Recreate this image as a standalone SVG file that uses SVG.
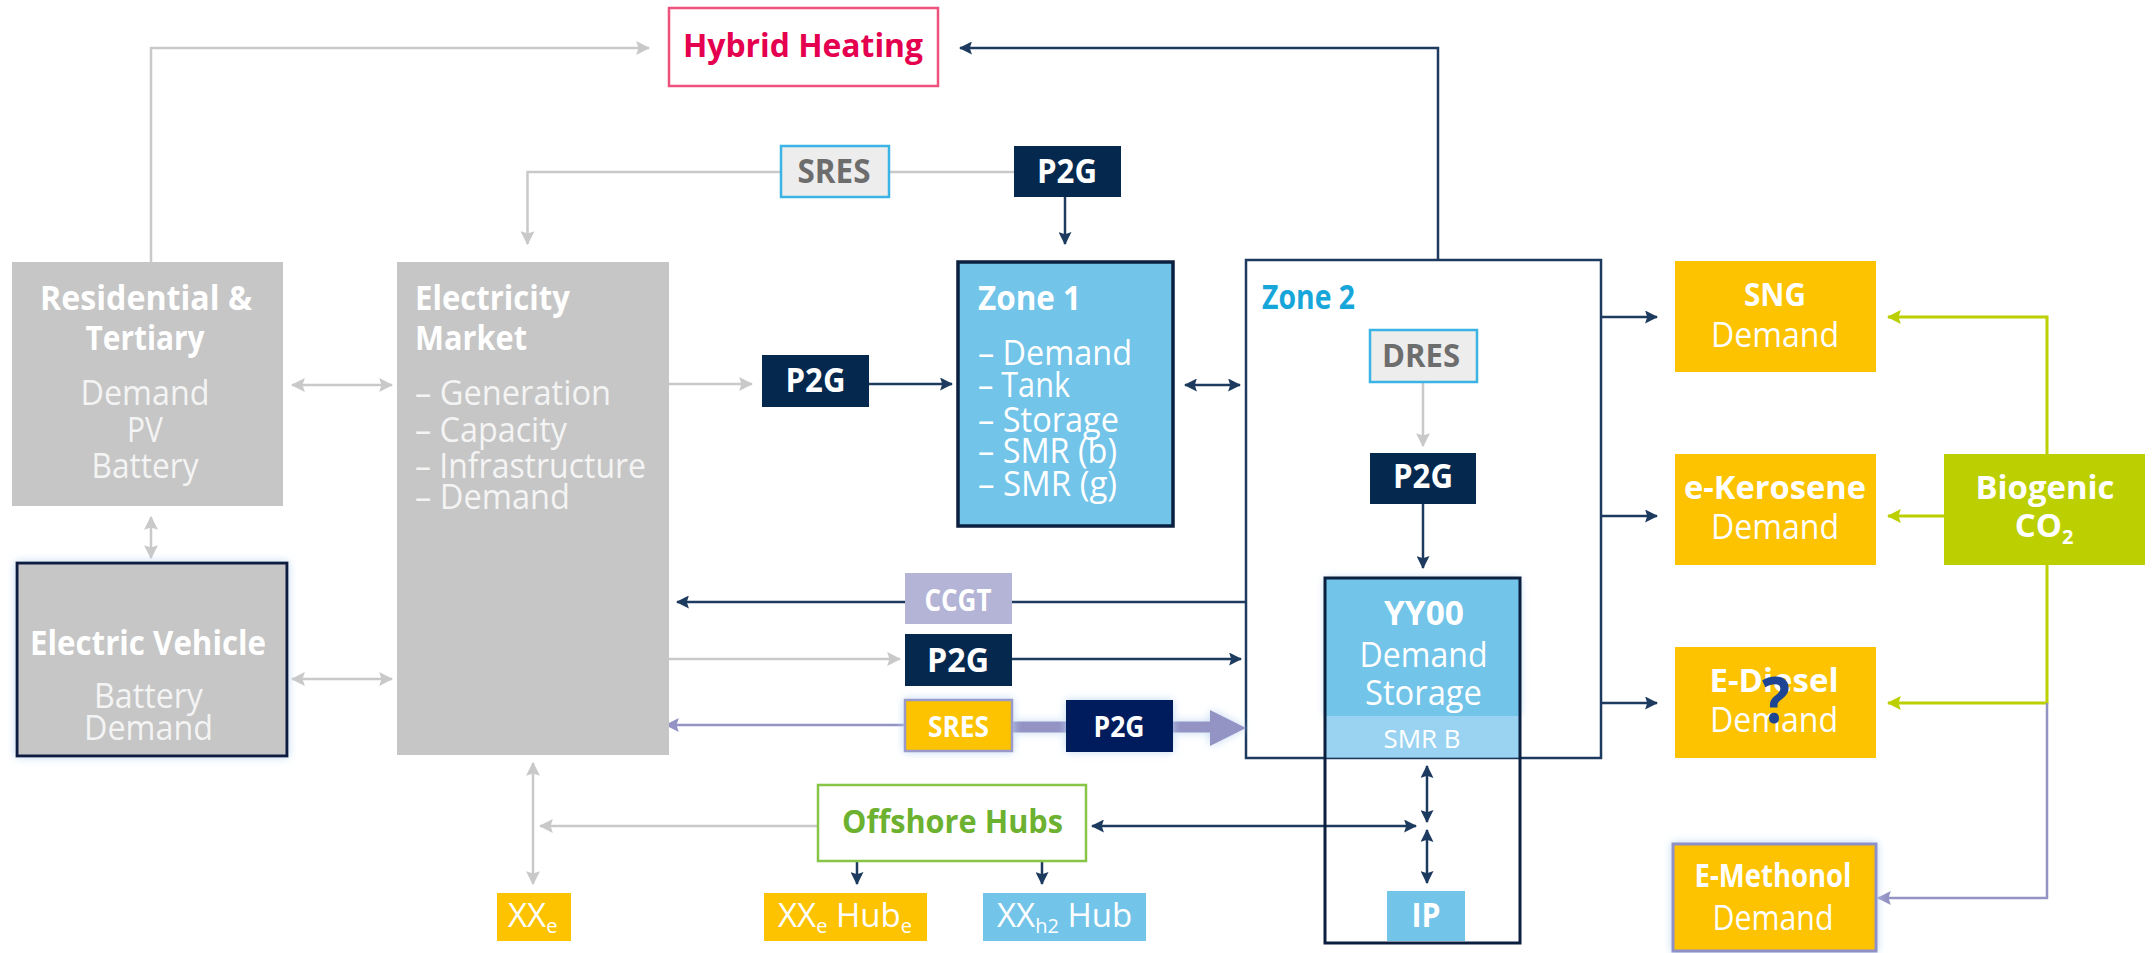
<svg xmlns="http://www.w3.org/2000/svg" width="2153" height="953" viewBox="0 0 2153 953">
<defs>
<style>
.t{font-family:"Open Sans","Liberation Sans",sans-serif;}
.b{font-weight:bold;}
.r{font-weight:normal;}
.w{fill:#FFFFFF;}
.lw{fill:#F4F4F4;}
.gl{fill:none;stroke:#C9C9C9;stroke-width:2.5;}
.nl{fill:none;stroke:#1D3A5F;stroke-width:2.5;}
.grl{fill:none;stroke:#BCCF00;stroke-width:3;}
.ll{fill:none;stroke:#9393C4;stroke-width:2.5;}
.gray{fill:#C6C6C6;}
.navy{fill:#05284F;}
.amber{fill:#FDC300;}
.lblue{fill:#72C4E9;}
</style>
<marker id="ag" markerUnits="userSpaceOnUse" markerWidth="14" markerHeight="14" viewBox="0 0 12 12" refX="11" refY="6" orient="auto-start-reverse"><path d="M0,0 L12,6 L0,12 L2,6 z" fill="#C9C9C9"/></marker>
<marker id="an" markerUnits="userSpaceOnUse" markerWidth="13" markerHeight="13" viewBox="0 0 12 12" refX="11" refY="6" orient="auto-start-reverse"><path d="M0,0 L12,6 L0,12 L2,6 z" fill="#1D3A5F"/></marker>
<marker id="agr" markerUnits="userSpaceOnUse" markerWidth="14" markerHeight="14" viewBox="0 0 12 12" refX="11" refY="6" orient="auto-start-reverse"><path d="M0,0 L12,6 L0,12 L2,6 z" fill="#BCCF00"/></marker>
<marker id="al" markerUnits="userSpaceOnUse" markerWidth="14" markerHeight="14" viewBox="0 0 12 12" refX="11" refY="6" orient="auto-start-reverse"><path d="M0,0 L12,6 L0,12 L2,6 z" fill="#9393C4"/></marker>
<filter id="glow" x="-20%" y="-20%" width="140%" height="140%"><feDropShadow dx="0" dy="0" stdDeviation="4" flood-color="#B9D6F2" flood-opacity="0.9"/></filter>
</defs>
<rect width="2153" height="953" fill="#FFFFFF"/>

<g id="zone2">
<rect x="1246" y="260" width="355" height="498" fill="#FFFFFF" stroke="#1D3A5F" stroke-width="2.5"/>
<text class="t b" x="1262" y="309" font-size="34" fill="#17A6DA" textLength="93" lengthAdjust="spacingAndGlyphs">Zone 2</text>
</g>

<g id="connectors">
<path class="gl" d="M151,262 V48 H649" marker-end="url(#ag)"/>
<path class="gl" d="M782,172 H527.5 V244" marker-end="url(#ag)"/>
<path class="gl" d="M889,172 H1014"/>
<path class="gl" d="M292,385 H392" marker-start="url(#ag)" marker-end="url(#ag)"/>
<path class="gl" d="M292,679 H392" marker-start="url(#ag)" marker-end="url(#ag)"/>
<path class="gl" d="M151,517 V558" marker-start="url(#ag)" marker-end="url(#ag)"/>
<path class="gl" d="M669,384 H752" marker-end="url(#ag)"/>
<path class="gl" d="M669,659 H900" marker-end="url(#ag)"/>
<path class="gl" d="M818,826 H540" marker-end="url(#ag)"/>
<path class="gl" d="M533,763 V884" marker-start="url(#ag)" marker-end="url(#ag)"/>
<path class="gl" d="M1423,382 V446" marker-end="url(#ag)"/>

<path class="nl" d="M1438,260 V48 H960" marker-end="url(#an)"/>
<path class="nl" d="M1065,197 V244" marker-end="url(#an)"/>
<path class="nl" d="M869,384 H952" marker-end="url(#an)"/>
<path class="nl" d="M1185,385 H1240" marker-start="url(#an)" marker-end="url(#an)"/>
<path class="nl" d="M1246,602 H677" marker-end="url(#an)"/>
<path class="nl" d="M1012,659 H1241" marker-end="url(#an)"/>
<path class="nl" d="M1423,504 V568" marker-end="url(#an)"/>
<path class="nl" d="M1601,317 H1657" marker-end="url(#an)"/>
<path class="nl" d="M1601,516 H1657" marker-end="url(#an)"/>
<path class="nl" d="M1601,703 H1657" marker-end="url(#an)"/>
<path class="nl" d="M857,861 V884" marker-end="url(#an)"/>
<path class="nl" d="M1042,861 V884" marker-end="url(#an)"/>
<path class="nl" d="M1092,826 H1416" marker-start="url(#an)" marker-end="url(#an)"/>
<path class="nl" d="M1427,766 V822" marker-start="url(#an)" marker-end="url(#an)"/>
<path class="nl" d="M1427,830 V883" marker-start="url(#an)" marker-end="url(#an)"/>

<path class="grl" d="M2047,454 V317 H1888" marker-end="url(#agr)"/>
<path class="grl" d="M1944,516 H1888" marker-end="url(#agr)"/>
<path class="grl" d="M2047,565 V703 H1888" marker-end="url(#agr)"/>

<path class="ll" d="M2047,703 V898 H1878" marker-end="url(#al)"/>
<path class="ll" d="M904,725 H666" marker-end="url(#al)"/>
<g filter="url(#glow)">
<path d="M1013,727 H1066" fill="none" stroke="#9393C4" stroke-width="11"/>
<path d="M1172,727 H1212" fill="none" stroke="#9393C4" stroke-width="11"/>
<polygon points="1210,710 1246,728 1210,746" fill="#9393C4"/>
</g>
</g>

<g id="hybrid-heating">
<rect x="669" y="8" width="269" height="78" fill="#FFFFFF" stroke="#EE527C" stroke-width="2.5"/>
<text class="t b" x="803" y="57" font-size="33" fill="#E4004F" text-anchor="middle" textLength="240" lengthAdjust="spacingAndGlyphs">Hybrid Heating</text>
</g>

<g id="sres-top">
<rect x="781" y="146" width="108" height="51" fill="#EDEDED" stroke="#3BB4E5" stroke-width="2.5"/>
<text class="t b" x="834" y="183" font-size="34" fill="#6D6D6D" text-anchor="middle" textLength="73" lengthAdjust="spacingAndGlyphs">SRES</text>
</g>

<g id="p2g-top">
<rect x="1014" y="146" width="107" height="51" class="navy"/>
<text class="t b w" x="1067" y="183" font-size="34" text-anchor="middle" textLength="60" lengthAdjust="spacingAndGlyphs">P2G</text>
</g>

<g id="residential">
<rect x="12" y="262" width="271" height="244" class="gray"/>
<text class="t b w" x="146" y="310" font-size="34" text-anchor="middle" textLength="212" lengthAdjust="spacingAndGlyphs">Residential &amp;</text>
<text class="t b w" x="145" y="350" font-size="34" text-anchor="middle" textLength="119" lengthAdjust="spacingAndGlyphs">Tertiary</text>
<text class="t r lw" x="145" y="405" font-size="34" text-anchor="middle" textLength="129" lengthAdjust="spacingAndGlyphs">Demand</text>
<text class="t r lw" x="145" y="442" font-size="34" text-anchor="middle" textLength="36" lengthAdjust="spacingAndGlyphs">PV</text>
<text class="t r lw" x="145" y="478" font-size="34" text-anchor="middle" textLength="107" lengthAdjust="spacingAndGlyphs">Battery</text>
</g>

<g id="electricity-market">
<rect x="397" y="262" width="272" height="493" class="gray"/>
<text class="t b w" x="415" y="310" font-size="34" textLength="155" lengthAdjust="spacingAndGlyphs">Electricity</text>
<text class="t b w" x="415" y="350" font-size="34" textLength="112" lengthAdjust="spacingAndGlyphs">Market</text>
<text class="t r lw" x="415" y="405" font-size="34" textLength="196" lengthAdjust="spacingAndGlyphs">– Generation</text>
<text class="t r lw" x="415" y="442" font-size="34" textLength="152" lengthAdjust="spacingAndGlyphs">– Capacity</text>
<text class="t r lw" x="415" y="478" font-size="34" textLength="231" lengthAdjust="spacingAndGlyphs">– Infrastructure</text>
<text class="t r lw" x="415" y="509" font-size="34" textLength="155" lengthAdjust="spacingAndGlyphs">– Demand</text>
</g>

<g id="electric-vehicle">
<rect x="17" y="563" width="270" height="193" class="gray" stroke="#0B1F3F" stroke-width="3" filter="url(#glow)"/>
<text class="t b w" x="148" y="655" font-size="34" text-anchor="middle" textLength="236" lengthAdjust="spacingAndGlyphs">Electric Vehicle</text>
<text class="t r lw" x="148.5" y="708" font-size="34" text-anchor="middle" textLength="109" lengthAdjust="spacingAndGlyphs">Battery</text>
<text class="t r lw" x="148.5" y="740" font-size="34" text-anchor="middle" textLength="129" lengthAdjust="spacingAndGlyphs">Demand</text>
</g>

<g id="p2g-mid">
<rect x="762" y="355" width="107" height="52" class="navy"/>
<text class="t b w" x="815.5" y="392" font-size="34" text-anchor="middle" textLength="60" lengthAdjust="spacingAndGlyphs">P2G</text>
</g>

<g id="zone1">
<rect x="958" y="262" width="215" height="264" class="lblue" stroke="#0B1F3F" stroke-width="3.5"/>
<text class="t b w" x="978" y="310" font-size="34" textLength="103" lengthAdjust="spacingAndGlyphs">Zone 1</text>
<text class="t r w" x="978" y="365" font-size="34" textLength="154" lengthAdjust="spacingAndGlyphs">– Demand</text>
<text class="t r w" x="978" y="397" font-size="34" textLength="92" lengthAdjust="spacingAndGlyphs">– Tank</text>
<text class="t r w" x="978" y="432" font-size="34" textLength="141" lengthAdjust="spacingAndGlyphs">– Storage</text>
<text class="t r w" x="978" y="463" font-size="34" textLength="139" lengthAdjust="spacingAndGlyphs">– SMR (b)</text>
<text class="t r w" x="978" y="496" font-size="34" textLength="139" lengthAdjust="spacingAndGlyphs">– SMR (g)</text>
</g>

<g id="ccgt">
<rect x="905" y="573" width="107" height="51" fill="#B4B4D6"/>
<text class="t b w" x="958" y="611" font-size="30" text-anchor="middle" textLength="67" lengthAdjust="spacingAndGlyphs">CCGT</text>
</g>

<g id="p2g-low">
<rect x="905" y="634" width="107" height="52" class="navy"/>
<text class="t b w" x="958" y="672" font-size="34" text-anchor="middle" textLength="62" lengthAdjust="spacingAndGlyphs">P2G</text>
</g>

<g id="sres-yellow">
<rect x="905" y="700" width="107" height="51" class="amber" stroke="#9A9ACB" stroke-width="2.5" filter="url(#glow)"/>
<text class="t b w" x="958.5" y="737" font-size="28" text-anchor="middle" textLength="61" lengthAdjust="spacingAndGlyphs">SRES</text>
</g>

<g id="p2g-sres">
<rect x="1066" y="700" width="107" height="52" fill="#021D5C" filter="url(#glow)"/>
<text class="t b w" x="1119" y="737" font-size="28" text-anchor="middle" textLength="51" lengthAdjust="spacingAndGlyphs">P2G</text>
</g>

<g id="dres">
<rect x="1370" y="330" width="107" height="52" fill="#EDEDED" stroke="#3BB4E5" stroke-width="2.5"/>
<text class="t b" x="1421" y="367" font-size="32" fill="#6D6D6D" text-anchor="middle" textLength="78" lengthAdjust="spacingAndGlyphs">DRES</text>
</g>

<g id="p2g-zone2">
<rect x="1370" y="453" width="106" height="51" class="navy"/>
<text class="t b w" x="1423" y="488" font-size="34" text-anchor="middle" textLength="60" lengthAdjust="spacingAndGlyphs">P2G</text>
</g>

<g id="yy00">
<rect x="1325" y="578" width="195" height="138" class="lblue" filter="url(#glow)"/>
<rect x="1325" y="716" width="195" height="42" fill="#9AD3F1"/>
<line x1="1325" y1="758" x2="1520" y2="758" stroke="#1D3A5F" stroke-width="1.5" opacity="0.5"/>
<rect x="1325" y="578" width="195" height="365" fill="none" stroke="#0B1F3F" stroke-width="3"/>
<text class="t b w" x="1424" y="625" font-size="34" text-anchor="middle" textLength="80" lengthAdjust="spacingAndGlyphs">YY00</text>
<text class="t r w" x="1423.5" y="667" font-size="34" text-anchor="middle" textLength="128" lengthAdjust="spacingAndGlyphs">Demand</text>
<text class="t r w" x="1423.5" y="705" font-size="34" text-anchor="middle" textLength="117" lengthAdjust="spacingAndGlyphs">Storage</text>
<text class="t r w" x="1422" y="748" font-size="26" text-anchor="middle" textLength="77" lengthAdjust="spacingAndGlyphs">SMR B</text>
</g>

<g id="ip">
<rect x="1387" y="891" width="78" height="50" class="lblue"/>
<text class="t b w" x="1426" y="927" font-size="34" text-anchor="middle" textLength="29" lengthAdjust="spacingAndGlyphs">IP</text>
</g>

<g id="sng-demand">
<rect x="1675" y="261" width="201" height="111" class="amber"/>
<text class="t b w" x="1775" y="306" font-size="33" text-anchor="middle" textLength="62" lengthAdjust="spacingAndGlyphs">SNG</text>
<text class="t r w" x="1775" y="347" font-size="34" text-anchor="middle" textLength="128" lengthAdjust="spacingAndGlyphs">Demand</text>
</g>

<g id="ekerosene-demand">
<rect x="1675" y="454" width="201" height="111" class="amber"/>
<text class="t b w" x="1775" y="499" font-size="33" text-anchor="middle" textLength="182" lengthAdjust="spacingAndGlyphs">e-Kerosene</text>
<text class="t r w" x="1775" y="539" font-size="34" text-anchor="middle" textLength="128" lengthAdjust="spacingAndGlyphs">Demand</text>
</g>

<g id="ediesel-demand">
<rect x="1675" y="647" width="201" height="111" class="amber"/>
<text class="t b w" x="1774" y="692" font-size="33" text-anchor="middle" textLength="129" lengthAdjust="spacingAndGlyphs">E-Diesel</text>
<text class="t r w" x="1774" y="732" font-size="34" text-anchor="middle" textLength="128" lengthAdjust="spacingAndGlyphs">Demand</text>
<text class="t b" x="1776" y="723" font-size="64" fill="#1E4594" text-anchor="middle" textLength="28" lengthAdjust="spacingAndGlyphs">?</text>
</g>

<g id="biogenic-co2">
<rect x="1944" y="454" width="201" height="111" fill="#BCCF00"/>
<text class="t b w" x="2045" y="499" font-size="33" text-anchor="middle" textLength="139" lengthAdjust="spacingAndGlyphs">Biogenic</text>
<text class="t b w" x="2044" y="537" font-size="33" text-anchor="middle">CO<tspan font-size="20" dy="7">2</tspan></text>
</g>

<g id="emethonol-demand">
<rect x="1673" y="844" width="203" height="107" class="amber" stroke="#9090C8" stroke-width="3" filter="url(#glow)"/>
<text class="t b w" x="1773" y="887" font-size="33" text-anchor="middle" textLength="157" lengthAdjust="spacingAndGlyphs">E-Methonol</text>
<text class="t r w" x="1773" y="930" font-size="34" text-anchor="middle" textLength="121" lengthAdjust="spacingAndGlyphs">Demand</text>
</g>

<g id="offshore-hubs">
<rect x="818" y="785" width="268" height="76" fill="#FFFFFF" stroke="#86C546" stroke-width="2.5"/>
<text class="t b" x="952.5" y="833" font-size="33" fill="#6CB12F" text-anchor="middle" textLength="221" lengthAdjust="spacingAndGlyphs">Offshore Hubs</text>
</g>

<g id="xx-e">
<rect x="497" y="893" width="74" height="48" class="amber"/>
<text class="t r w" x="508" y="927" font-size="33">XX<tspan font-size="20" dy="6">e</tspan></text>
</g>

<g id="xx-e-hub">
<rect x="764" y="893" width="163" height="48" class="amber"/>
<text class="t r w" x="778" y="927" font-size="33">XX<tspan font-size="20" dy="6">e</tspan><tspan dy="-6"> Hub</tspan><tspan font-size="20" dy="6">e</tspan></text>
</g>

<g id="xx-h2-hub">
<rect x="983" y="893" width="163" height="48" class="lblue"/>
<text class="t r w" x="997" y="927" font-size="33">XX<tspan font-size="20" dy="6">h2</tspan><tspan dy="-6"> Hub</tspan></text>
</g>
</svg>
